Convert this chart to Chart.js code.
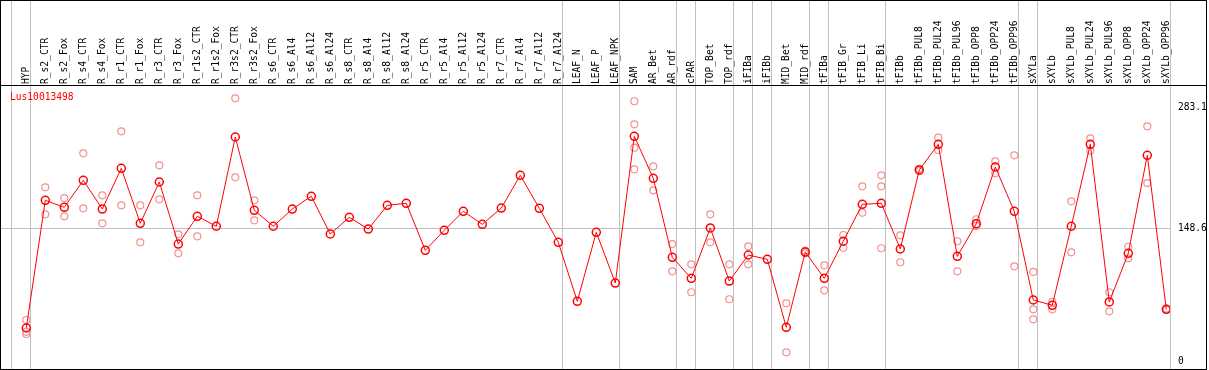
<!DOCTYPE html>
<html>
<head>
<meta charset="utf-8">
<script src="https://cdn.jsdelivr.net/npm/chart.js@4/dist/chart.umd.min.js"></script>
<style>
  body { margin: 0; background: #fff; }
  #wrap { width: 1209px; height: 370px; }
</style>
</head>
<body>
<div id="wrap"><canvas id="expr-chart" width="1209" height="370"></canvas></div>
<script>
// expression profile chart

// 1. The data.
const geneName = 'Lus10013498';

const categories = [
  'HYP', 'R_s2_CTR', 'R_s2_Fox', 'R_s4_CTR', 'R_s4_Fox', 'R_r1_CTR', 'R_r1_Fox',
  'R_r3_CTR', 'R_r3_Fox', 'R_r1s2_CTR', 'R_r1s2_Fox', 'R_r3s2_CTR', 'R_r3s2_Fox',
  'R_s6_CTR', 'R_s6_Al4', 'R_s6_Al12', 'R_s6_Al24', 'R_s8_CTR', 'R_s8_Al4',
  'R_s8_Al12', 'R_s8_Al24', 'R_r5_CTR', 'R_r5_Al4', 'R_r5_Al12', 'R_r5_Al24',
  'R_r7_CTR', 'R_r7_Al4', 'R_r7_Al12', 'R_r7_Al24', 'LEAF_N', 'LEAF_P', 'LEAF_NPK',
  'SAM', 'AR_Bet', 'AR_rdf', 'cPAR', 'TOP_Bet', 'TOP_rdf', 'iFIBa', 'iFIBb',
  'MID_Bet', 'MID_rdf', 'tFIBa', 'tFIB_Gr', 'tFIB_Li', 'tFIB_Bi', 'tFIBb',
  'tFIBb_PUL8', 'tFIBb_PUL24', 'tFIBb_PUL96', 'tFIBb_OPP8', 'tFIBb_OPP24', 'tFIBb_OPP96',
  'sXYLa', 'sXYLb', 'sXYLb_PUL8', 'sXYLb_PUL24', 'sXYLb_PUL96', 'sXYLb_OPP8',
  'sXYLb_OPP24', 'sXYLb_OPP96'
];

// mean value per sample (the red line)
const meanValues = [
  37.3, 179.5, 171.7, 201.8, 169.8, 215.1, 153.9, 199.9, 130.8, 161.7,
  150.6, 250.0, 168.4, 150.6, 169.8, 184.0, 142.0, 160.6, 147.5, 173.9,
  176.2, 123.8, 146.1, 167.3, 152.8, 170.9, 207.3, 170.6, 132.7, 67.0,
  143.9, 87.4, 250.8, 204.0, 116.0, 92.6, 148.7, 89.6, 118.6, 113.8,
  38.1, 121.9, 92.6, 133.9, 175.0, 176.2, 125.3, 213.3, 241.9, 117.1,
  153.5, 216.6, 167.3, 68.5, 62.6, 150.6, 241.9, 66.3, 120.5, 229.6, 58.1
];

// single replicates (the pale circles), one list per sample
const replicateValues = [
  [46.2, 33.0, 30.6], [194.0, 163.9], [182.0, 161.7], [231.8, 170.6], [185.0, 153.9],
  [256.3, 173.9], [173.9, 132.7], [218.5, 180.6], [141.6, 120.5], [185.0, 139.4],
  [], [293.1, 205.1], [179.5, 157.2], [], [], [], [], [], [], [], [], [], [], [], [],
  [], [], [], [], [], [], [],
  [289.8, 264.1, 238.1, 214.0], [217.4, 190.6], [130.8, 100.4], [108.2, 77.1],
  [163.9, 132.7], [108.2, 69.3], [128.3, 108.2], [], [64.8, 10.2], [123.5, 120.5],
  [107.1, 79.3], [140.9, 126.7], [195.1, 165.7], [207.3, 195.1, 126.1],
  [140.5, 110.5], [214.5, 212.0], [249.2, 235.5], [133.9, 100.4], [158.4, 151.0],
  [222.9, 209.6], [229.6, 106.0], [99.7, 58.1, 47.0], [66.3, 58.1], [178.4, 121.6],
  [248.5, 234.7], [77.1, 55.9], [127.8, 114.9], [261.9, 198.7], [59.0, 57.5]
];

// right-hand tick labels
const yTickValues = [0, 148.6, 283.1];

// index of the last sample in each group (a grey separator follows it)
const groupEnds = [-1, 0, 28, 31, 34, 35, 37, 38, 39, 41, 42, 45, 52, 53, 60];

const monoFont = '"DejaVu Sans Mono", "Liberation Mono", monospace';

// 2. Frame, separators and title drawn around the chart area.
const framePlugin = {
  id: 'frame',
  beforeDatasetsDraw(chart) {
    const ctx = chart.ctx;
    const x = chart.scales.x;
    ctx.save();
    ctx.strokeStyle = '#c0c0c0';
    ctx.lineWidth = 1;
    groupEnds.forEach(g => {
      const px = Math.round(x.getPixelForValue(g + 0.21)) + 0.5;
      ctx.beginPath();
      ctx.moveTo(px, 0);
      ctx.lineTo(px, 369);
      ctx.stroke();
    });
    ctx.restore();
  },
  afterDraw(chart) {
    const ctx = chart.ctx;
    ctx.save();
    ctx.strokeStyle = '#000';
    ctx.lineWidth = 1;
    ctx.strokeRect(0.5, 0.5, 1206, 369);
    ctx.beginPath();
    ctx.moveTo(0, 85.5);
    ctx.lineTo(1207, 85.5);
    ctx.stroke();
    ctx.fillStyle = '#ff0000';
    ctx.font = '9.6px ' + monoFont;
    ctx.textBaseline = 'middle';
    ctx.fillText(geneName, 10, 97);
    ctx.restore();
  }
};

// 3. The chart configuration.
const config = {
  type: 'line',
  data: {
    datasets: [
      {
        label: 'mean',
        data: meanValues.map((v, i) => ({ x: i, y: v })),
        borderColor: '#ff0000',
        borderWidth: 1,
        pointRadius: 4,
        pointBorderWidth: 1.5,
        pointBorderColor: '#ff0000',
        pointBackgroundColor: 'rgba(0,0,0,0)',
        tension: 0,
      },
      {
        label: 'replicates',
        data: replicateValues.flatMap((list, i) => list.map(v => ({ x: i, y: v }))),
        showLine: false,
        pointRadius: 3.5,
        pointBorderWidth: 1.2,
        pointBorderColor: '#ef9292',
        pointBackgroundColor: 'rgba(0,0,0,0)',
      },
    ],
  },
  options: {
    responsive: false,
    animation: false,
    layout: { autoPadding: false, padding: { left: 1, right: 2, top: 0, bottom: 1 } },
    plugins: { legend: { display: false }, tooltip: { enabled: false } },
    scales: {
      x: {
        type: 'linear',
        position: 'top',
        min: -1.3316,
        max: 60.195,
        afterBuildTicks: s => { s.ticks = categories.map((c, i) => ({ value: i })); },
        afterFit: s => { s.height = 86; },
        grid: { display: false, drawTicks: false },
        border: { display: false },
        ticks: {
          autoSkip: false,
          minRotation: 90,
          maxRotation: 90,
          padding: 2,
          labelOffset: 11.5,
          color: '#000',
          font: { family: monoFont, size: 9.6, lineHeight: 1.2 },
          callback: v => categories[v],
        },
      },
      y: {
        type: 'linear',
        position: 'right',
        min: -8.35,
        max: 306.8,
        afterBuildTicks: s => { s.ticks = yTickValues.map(v => ({ value: v })); },
        afterFit: s => { s.width = 37; s.paddingTop = 0; s.paddingBottom = 0; },
        grid: {
          drawTicks: false,
          color: c => (c.tick && c.tick.value === 148.6 ? '#c0c0c0' : 'rgba(0,0,0,0)'),
        },
        border: { display: false },
        ticks: {
          padding: 8,
          color: '#000',
          font: { family: monoFont, size: 9.6 },
          callback: v => String(v),
        },
      },
    },
  },
  plugins: [framePlugin],
};

// 4. The chart instance.
const exprChart = new Chart(document.getElementById('expr-chart').getContext('2d'), config);
</script>
</body>
</html>
